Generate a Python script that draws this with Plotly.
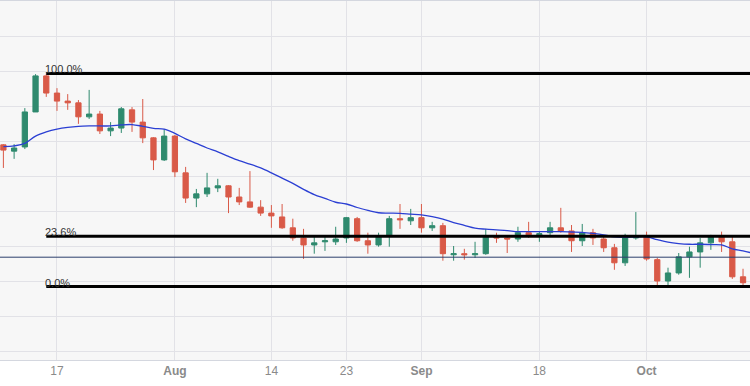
import pandas as pd
import plotly.graph_objects as go

# ---- data (AUD/USD style daily candles) ----
dates = [d.strftime("%Y-%m-%d") for d in pd.bdate_range("2023-07-10", "2023-10-16")]

opens = [0.6691, 0.6673, 0.6685, 0.6785, 0.6888, 0.6839, 0.6816, 0.6811, 0.6771, 0.6779,
         0.6731, 0.6739, 0.6791, 0.6756, 0.6711, 0.6648, 0.6716, 0.6611, 0.6539, 0.6551,
         0.6568, 0.6574, 0.6542, 0.6528, 0.6513, 0.6496, 0.6485, 0.6454, 0.6425, 0.6405,
         0.6414, 0.6414, 0.6425, 0.6480, 0.6417, 0.6405, 0.6431, 0.6480, 0.6474, 0.6483,
         0.6454, 0.6460, 0.6377, 0.6380, 0.6377, 0.6380, 0.6428, 0.6425, 0.6422, 0.6440,
         0.6434, 0.6440, 0.6454, 0.6445, 0.6417, 0.6440, 0.6422, 0.6397, 0.6354, 0.6425,
         0.6428, 0.6363, 0.6302, 0.6325, 0.6371, 0.6385, 0.6411, 0.6428, 0.6414, 0.6314,
         0.6314]
highs = [0.6693, 0.6693, 0.6796, 0.6893, 0.6895, 0.6853, 0.6836, 0.6819, 0.6848, 0.6788,
         0.6756, 0.6799, 0.6799, 0.6822, 0.6713, 0.6736, 0.6719, 0.6628, 0.6565, 0.6611,
         0.6594, 0.6576, 0.6568, 0.6616, 0.6533, 0.6519, 0.6522, 0.6480, 0.6451, 0.6428,
         0.6428, 0.6457, 0.6485, 0.6485, 0.6440, 0.6440, 0.6488, 0.6522, 0.6508, 0.6522,
         0.6471, 0.6468, 0.6402, 0.6394, 0.6414, 0.6451, 0.6440, 0.6428, 0.6457, 0.6471,
         0.6445, 0.6471, 0.6511, 0.6462, 0.6465, 0.6451, 0.6434, 0.6408, 0.6437, 0.6499,
         0.6443, 0.6368, 0.6340, 0.6382, 0.6400, 0.6425, 0.6434, 0.6443, 0.6428, 0.6337,
         0.6357]
lows = [0.6625, 0.6651, 0.6679, 0.6785, 0.6828, 0.6788, 0.6791, 0.6751, 0.6765, 0.6722,
        0.6716, 0.6725, 0.6728, 0.6696, 0.6619, 0.6645, 0.6599, 0.6525, 0.6513, 0.6542,
        0.6556, 0.6496, 0.6519, 0.6511, 0.6488, 0.6454, 0.6451, 0.6417, 0.6365, 0.6380,
        0.6388, 0.6405, 0.6411, 0.6414, 0.6380, 0.6400, 0.6400, 0.6451, 0.6462, 0.6440,
        0.6445, 0.6360, 0.6360, 0.6363, 0.6368, 0.6377, 0.6411, 0.6382, 0.6414, 0.6425,
        0.6414, 0.6428, 0.6440, 0.6385, 0.6402, 0.6405, 0.6385, 0.6334, 0.6345, 0.6420,
        0.6360, 0.6286, 0.6288, 0.6320, 0.6311, 0.6340, 0.6391, 0.6385, 0.6308, 0.6287,
        0.6308]
closes = [0.6676, 0.6682, 0.6785, 0.6888, 0.6839, 0.6816, 0.6811, 0.6771, 0.6779, 0.6731,
          0.6739, 0.6794, 0.6756, 0.6711, 0.6648, 0.6716, 0.6614, 0.6539, 0.6551, 0.6568,
          0.6574, 0.6542, 0.6528, 0.6513, 0.6496, 0.6488, 0.6454, 0.6425, 0.6405, 0.6411,
          0.6417, 0.6422, 0.6483, 0.6417, 0.6405, 0.6431, 0.6480, 0.6477, 0.6483, 0.6454,
          0.6460, 0.6380, 0.6380, 0.6377, 0.6380, 0.6431, 0.6425, 0.6422, 0.6440, 0.6434,
          0.6437, 0.6454, 0.6445, 0.6417, 0.6440, 0.6425, 0.6397, 0.6354, 0.6425, 0.6428,
          0.6365, 0.6302, 0.6325, 0.6371, 0.6385, 0.6411, 0.6428, 0.6414, 0.6314, 0.6297,
          0.6342]
moving_avg = [0.6686, 0.6688, 0.6695, 0.6716, 0.6728, 0.6736, 0.6741, 0.6744, 0.6745, 0.6745,
              0.6745, 0.6748, 0.6749, 0.6744, 0.6738, 0.6736, 0.6724, 0.6708, 0.6695, 0.6682,
              0.6671, 0.6658, 0.6646, 0.6636, 0.6625, 0.6611, 0.6596, 0.6581, 0.6564, 0.6549,
              0.6538, 0.6527, 0.6522, 0.6512, 0.6504, 0.6497, 0.6496, 0.6495, 0.6493, 0.6491,
              0.6486, 0.6479, 0.6469, 0.6461, 0.6453, 0.6450, 0.6448, 0.6446, 0.6443, 0.6443,
              0.6443, 0.6443, 0.6443, 0.6442, 0.6441, 0.6438, 0.6434, 0.6428, 0.6427, 0.6428,
              0.6428, 0.6420, 0.6413, 0.6409, 0.6407, 0.6407, 0.6406, 0.6405, 0.6394, 0.6388,
              0.6381]

price_line = 0.6370
fib_high = 0.6895
fib_low = 0.6286
fib_levels = [1.0, 0.236, 0.0]
fib_labels = ["100.0%", "23.6%", "0.0%"]
fib_start = "2023-07-14"

tick_dates = ["2023-07-17", "2023-08-01", "2023-08-14", "2023-08-23",
              "2023-09-01", "2023-09-18", "2023-10-02"]
tick_text = ["17", "<b>Aug</b>", "14", "23", "<b>Sep</b>", "18", "<b>Oct</b>"]

UP = "#2f8a6e"
DOWN = "#d95a48"

fig = go.Figure()
fig.add_trace(go.Candlestick(
    x=dates, open=opens, high=highs, low=lows, close=closes,
    increasing=dict(line=dict(color=UP, width=1), fillcolor=UP),
    decreasing=dict(line=dict(color=DOWN, width=1), fillcolor=DOWN),
    whiskerwidth=0, hoverinfo="skip", showlegend=False,
))
fig.add_trace(go.Scatter(
    x=dates, y=moving_avg, mode="lines",
    line=dict(color="#2b3fd3", width=1.3, shape="spline"),
    hoverinfo="skip", showlegend=False,
))

start_idx = dates.index(fib_start)
fig.add_hline(y=price_line, line=dict(color="#2c3f6c", width=1))
for lvl, lab in zip(fib_levels, fib_labels):
    yv = fib_low + (fib_high - fib_low) * lvl
    fig.add_shape(type="line", xref="x", yref="y", x0=start_idx, x1=len(dates) + 5,
                  y0=yv, y1=yv, line=dict(color="#000000", width=3))
    fig.add_annotation(x=start_idx, y=yv, xref="x", yref="y", text=lab,
                       showarrow=False, xanchor="left", yanchor="bottom",
                       xshift=-3, yshift=-4,
                       font=dict(family="Liberation Sans, Arial, sans-serif", size=11, color="#333333"))

fig.update_layout(
    width=750, height=386,
    margin=dict(l=0, r=0, t=1, b=26),
    paper_bgcolor="#ffffff", plot_bgcolor="#f7f7f7",
    showlegend=False,
    font=dict(family="Liberation Sans, Arial, sans-serif"),
)
fig.update_xaxes(
    type="category", range=[-0.317, 69.65],
    tickmode="array", tickvals=tick_dates, ticktext=tick_text,
    showgrid=True, gridcolor="#e2e2e7", gridwidth=1,
    showline=True, linecolor="#d4d7df", linewidth=1, mirror=True,
    ticks="", tickfont=dict(size=12, color="#8a8a8a"),
    rangeslider=dict(visible=False), fixedrange=True,
)
fig.update_yaxes(
    range=[0.60763, 0.71020], dtick=0.01, tick0=0.61,
    showgrid=True, gridcolor="#e2e2e7", gridwidth=1,
    showticklabels=False, zeroline=False, showline=False, fixedrange=True,
)

fig.write_html("out.html", config={"displayModeBar": False},
               post_script="document.body.style.margin='0';document.body.style.padding='0';")
